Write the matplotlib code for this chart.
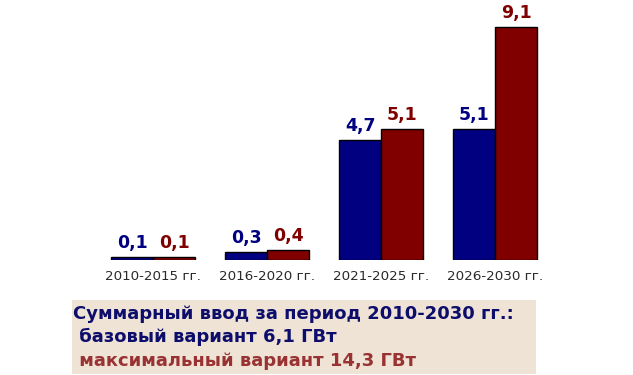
import matplotlib
matplotlib.use("Agg")
import matplotlib.pyplot as plt
import numpy as np
from matplotlib.patches import Rectangle

categories = ["2010-2015 гг.", "2016-2020 гг.", "2021-2025 гг.", "2026-2030 гг."]
base_values = [0.1, 0.3, 4.7, 5.1]
max_values = [0.1, 0.4, 5.1, 9.1]
base_labels = ["0,1", "0,3", "4,7", "5,1"]
max_labels = ["0,1", "0,4", "5,1", "9,1"]
summary_lines = ["Суммарный ввод за период 2010-2030 гг.:",
                 " базовый вариант 6,1 ГВт",
                 " максимальный вариант 14,3 ГВт"]

plt.rcParams['font.family'] = ['DejaVu Sans']

W, H = 633, 375
fig = plt.figure(figsize=(W/100, H/100), dpi=100)
fig.patch.set_facecolor("white")

ax = fig.add_axes([39/W, (H-260)/H, 570/W, 256/H])
ax.set_xlim(-1, 4)
ax.set_ylim(0, 10)
ax.axis("off")

x = np.arange(len(categories))
bw = 42/114
blue = "#000080"
red = "#800000"
ax.bar(x - bw/2, base_values, bw, color=blue, edgecolor="black", linewidth=1)
ax.bar(x + bw/2, max_values, bw, color=red, edgecolor="black", linewidth=1)

for i in range(len(categories)):
    ax.annotate(base_labels[i], (x[i] - bw/2, base_values[i]), xytext=(0, 6.5),
                textcoords="offset points", color=blue, fontsize=12.5,
                fontweight="bold", ha="center", va="baseline")
    ax.annotate(max_labels[i], (x[i] + bw/2, max_values[i]), xytext=(0, 6.5),
                textcoords="offset points", color=red, fontsize=12.5,
                fontweight="bold", ha="center", va="baseline")
    ax.annotate(categories[i], (x[i], 0), xytext=(0, -7),
                textcoords="offset points", color="#2a2a2a", fontsize=9.7,
                ha="center", va="top")

# summary box
fig.patches.append(Rectangle((72/W, 1/H), 464/W, 74/H, transform=fig.transFigure,
                             facecolor="#EFE3D6", edgecolor="none", zorder=0))
fig.text(73/W, 1 - 314/H, summary_lines[0], color="#0D0D6B", fontsize=13,
         fontweight="bold", va="center", ha="left")
fig.text(73/W, 1 - 337/H, summary_lines[1], color="#0D0D6B", fontsize=13,
         fontweight="bold", va="center", ha="left")
fig.text(73/W, 1 - 361/H, summary_lines[2], color="#993333", fontsize=13,
         fontweight="bold", va="center", ha="left")

fig.savefig("out.png", dpi=100, facecolor="white")
